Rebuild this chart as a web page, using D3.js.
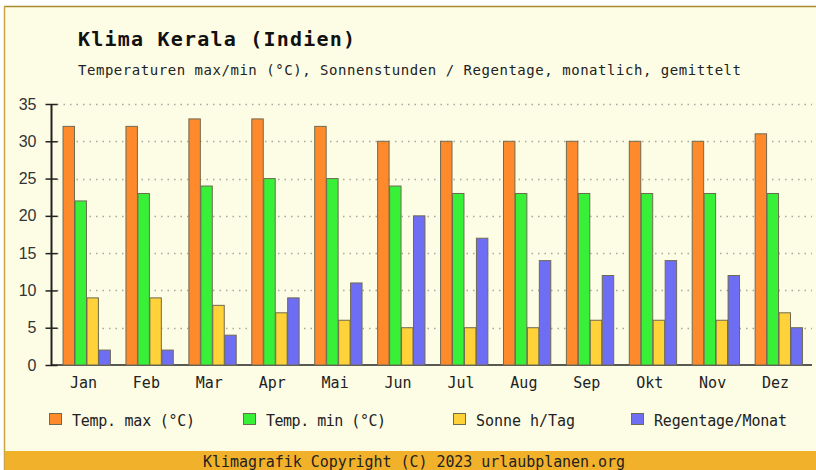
<!DOCTYPE html>
<html>
<head>
<meta charset="utf-8">
<script src="https://cdn.jsdelivr.net/npm/d3@7"></script>
<style>
  html, body { margin: 0; padding: 0; background: #fff; }
  svg { display: block; }
</style>
</head>
<body>
<script>
const months = ['Jan', 'Feb', 'Mar', 'Apr', 'Mai', 'Jun', 'Jul', 'Aug', 'Sep', 'Okt', 'Nov', 'Dez'];
const tempMax = [32, 32, 33, 33, 32, 30, 30, 30, 30, 30, 30, 31];
const tempMin = [22, 23, 24, 25, 25, 24, 23, 23, 23, 23, 23, 23];
const sonne = [9, 9, 8, 7, 6, 5, 5, 5, 6, 6, 6, 7];
const regen = [2, 2, 4, 9, 11, 20, 17, 14, 12, 14, 12, 5];
const yTicks = [0, 5, 10, 15, 20, 25, 30, 35];
const seriesNames = ['Temp. max (°C)', 'Temp. min (°C)', 'Sonne h/Tag', 'Regentage/Monat'];
const seriesColors = ['#fe8a2c', '#38f038', '#fed238', '#6e6ef4'];

const series = [tempMax, tempMin, sonne, regen];

const width = 816, height = 470;
const mono = "'DejaVu Sans Mono', monospace";

const svg = d3.select('body').append('svg')
  .attr('width', width)
  .attr('height', height);

// frame
svg.append('rect').attr('x', 0).attr('y', 0).attr('width', width).attr('height', height).attr('fill', '#ffffff');
svg.append('rect').attr('x', 4).attr('y', 6).attr('width', width - 4).attr('height', height - 6).attr('fill', '#fdfde6');
svg.append('line').attr('x1', 4).attr('x2', width).attr('y1', 6.5).attr('y2', 6.5).attr('stroke', '#a98a2c').attr('stroke-width', 1.5);
svg.append('line').attr('x1', 4.5).attr('x2', 4.5).attr('y1', 6).attr('y2', height).attr('stroke', '#c9a548').attr('stroke-width', 1.5);

// footer
svg.append('rect').attr('x', 5).attr('y', 451).attr('width', width - 5).attr('height', height - 451).attr('fill', '#f2b12b');
svg.append('text')
  .attr('x', 203).attr('y', 467)
  .attr('textLength', 422).attr('lengthAdjust', 'spacing')
  .attr('font-family', mono).attr('font-size', 15).attr('fill', '#222')
  .text('Klimagrafik Copyright (C) 2023 urlaubplanen.org');

// titles
svg.append('text')
  .attr('x', 78).attr('y', 46)
  .attr('textLength', 277).attr('lengthAdjust', 'spacing')
  .attr('font-family', mono).attr('font-weight', 'bold').attr('font-size', 20).attr('fill', '#111')
  .text('Klima Kerala (Indien)');
svg.append('text')
  .attr('x', 78).attr('y', 75)
  .attr('textLength', 663).attr('lengthAdjust', 'spacing')
  .attr('font-family', mono).attr('font-size', 14).attr('fill', '#222')
  .text('Temperaturen max/min (°C), Sonnenstunden / Regentage, monatlich, gemittelt');

// scales
const y = d3.scaleLinear().domain([0, 35]).range([365, 104]);
const x = d3.scaleBand().domain(months).range([55, 810]).paddingInner(0.24).paddingOuter(0.12);
const xs = d3.scaleBand().domain(d3.range(series.length)).range([0, x.bandwidth()]);

// grid
svg.append('g')
  .selectAll('line')
  .data(yTicks.filter(d => d > 0))
  .join('line')
  .attr('x1', 57).attr('x2', 812)
  .attr('y1', d => Math.round(y(d)) + 0.5).attr('y2', d => Math.round(y(d)) + 0.5)
  .attr('stroke', '#a8a8a0').attr('stroke-width', 1.5).attr('stroke-dasharray', '1.5,5');

// x baseline
svg.append('line')
  .attr('x1', 51).attr('x2', 812)
  .attr('y1', y(0)).attr('y2', y(0))
  .attr('stroke', '#222').attr('stroke-width', 1.5);

// y axis
const yAxis = d3.axisLeft(y).tickValues(yTicks).tickSize(6).tickPadding(9);
const ga = svg.append('g').attr('transform', 'translate(51.5,0)').call(yAxis);
ga.select('.domain').attr('stroke', '#222').attr('stroke-width', 2).attr('d', `M0,${y(35)}V${y(0)}`);
ga.selectAll('.tick line').attr('x1', -6).attr('x2', 6).attr('stroke', '#222').attr('stroke-width', 1.5);
ga.selectAll('.tick text')
  .attr('font-family', "'Liberation Sans', Arial, sans-serif").attr('font-size', 16).attr('fill', '#333');

// bars
const groups = svg.append('g')
  .selectAll('g')
  .data(months)
  .join('g')
  .attr('transform', d => `translate(${x(d)},0)`);

groups.selectAll('rect')
  .data((m, i) => series.map((s, k) => ({ k, v: s[i] })))
  .join('rect')
  .attr('x', d => xs(d.k) + 0.5)
  .attr('y', d => y(d.v))
  .attr('width', xs.bandwidth() - 0.5)
  .attr('height', d => y(0) - y(d.v))
  .attr('fill', d => seriesColors[d.k])
  .attr('stroke', '#6f6a52').attr('stroke-width', 1);

// month labels
svg.append('g')
  .selectAll('text')
  .data(months)
  .join('text')
  .attr('x', d => x(d) + x.bandwidth() / 2 - 3)
  .attr('y', 388)
  .attr('text-anchor', 'middle')
  .attr('font-family', mono).attr('font-size', 15).attr('fill', '#222')
  .text(d => d);

// legend
const legendX = [49, 243, 453, 631];
const legendW = [123, 120, 99, 133];
const leg = svg.append('g')
  .selectAll('g')
  .data(seriesNames)
  .join('g')
  .attr('transform', (d, i) => `translate(${legendX[i]},413)`);
leg.append('rect')
  .attr('x', 0.5).attr('y', 0.5).attr('width', 12).attr('height', 11)
  .attr('fill', (d, i) => seriesColors[i])
  .attr('stroke', '#6f6a52');
leg.append('text')
  .attr('x', 23).attr('y', 13)
  .attr('textLength', (d, i) => legendW[i]).attr('lengthAdjust', 'spacing')
  .attr('font-family', mono).attr('font-size', 15).attr('fill', '#222')
  .text(d => d);
</script>
</body>
</html>
